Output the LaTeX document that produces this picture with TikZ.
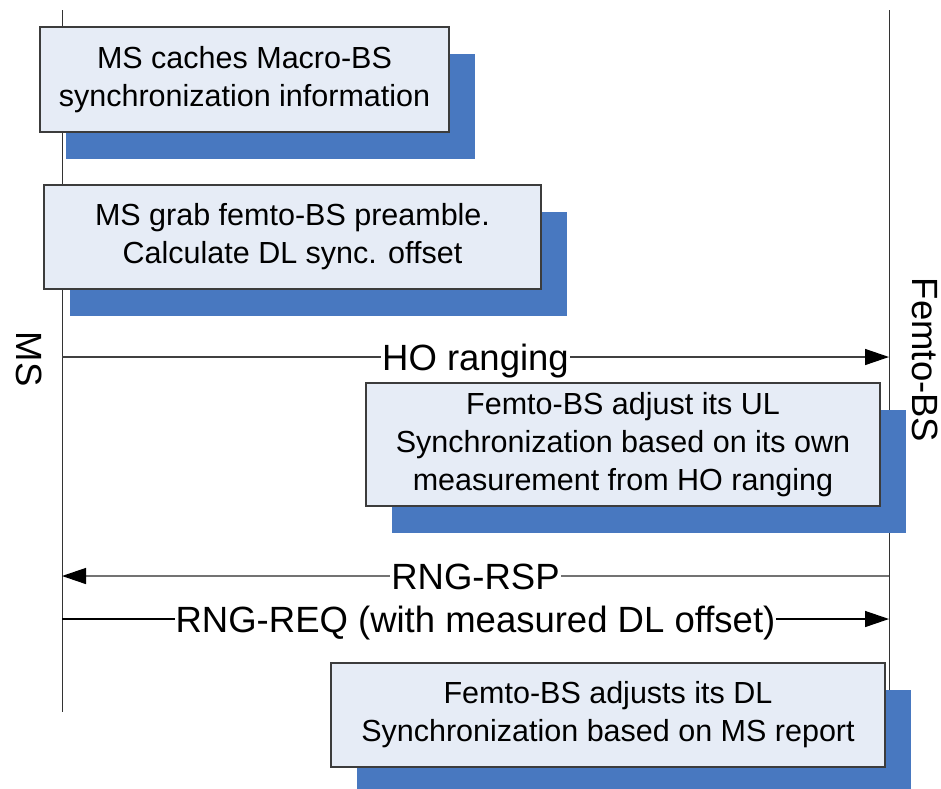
\documentclass[tikz,border=0pt]{standalone}
\usepackage{fontspec}
\setmainfont{Liberation Sans}
\usetikzlibrary{arrows.meta,shadows}
\definecolor{boxfill}{RGB}{230,236,246}
\definecolor{boxline}{RGB}{60,60,60}
\definecolor{shadowblue}{RGB}{72,120,192}
\definecolor{rspgray}{RGB}{115,115,115}
\begin{document}
\begin{tikzpicture}[x=1pt,y=-1pt,
  life/.style={line width=1pt,black!80},
  msg/.style={line width=1.4pt,-{Triangle[length=24pt,width=16pt,color=black]}},
  msglabel/.style={fill=white,inner xsep=1pt,inner ysep=0pt,font=\fontsize{36.5}{40}\selectfont,anchor=base,yshift=-13pt},
  sidelabel/.style={rotate=-90,inner sep=0pt,font=\fontsize{36.5}{40}\selectfont},
  notebox/.style={draw=boxline,line width=1.4pt,fill=boxfill,align=center,inner sep=0pt,
    font=\fontsize{30.5}{38}\selectfont,
    drop shadow={shadow xshift=26pt,shadow yshift=-26.5pt,fill=shadowblue,opacity=1}}]
\useasboundingbox (0,0) rectangle (941,788);

\coordinate (ms-top) at (62,10);
\coordinate (ms-bot) at (62,712);
\coordinate (bs-top) at (889,10);
\coordinate (bs-bot) at (889,712);
\draw[life] (ms-top) -- (ms-bot);
\draw[life] (bs-top) -- (bs-bot);

\node[sidelabel] (ms) at (29,359) {MS};
\node[sidelabel] (bs) at (925,360) {Femto-BS};

\node[notebox,minimum width=409pt,minimum height=105pt] (cache) at (244.5,79.5)
  {MS caches Macro-BS\\synchronization information};
\node[notebox,minimum width=497pt,minimum height=104pt] (grab) at (292.5,237)
  {MS grab femto-BS preamble.\\Calculate DL sync. offset};

\coordinate (ms-ho) at (62,357);
\coordinate (bs-ho) at (889,357);
\draw[msg,black!75] (ms-ho) -- node[msglabel,text=black] (ho) {HO ranging} (bs-ho);

\node[notebox,minimum width=514pt,minimum height=123pt] (ulsync) at (623,444.5)
  {Femto-BS adjust its UL\\Synchronization based on its own\\measurement from HO ranging};

\coordinate (bs-rsp) at (889,576);
\coordinate (ms-rsp) at (62,576);
\draw[msg,rspgray] (bs-rsp) -- node[msglabel,text=black] (rsp) {RNG-RSP} (ms-rsp);

\coordinate (ms-req) at (62,619);
\coordinate (bs-req) at (889,619);
\draw[msg,black] (ms-req) -- node[msglabel] (req) {RNG-REQ (with measured DL offset)} (bs-req);

\node[notebox,minimum width=554pt,minimum height=104pt] (dlsync) at (608,715)
  {Femto-BS adjusts its DL\\Synchronization based on MS report};
\end{tikzpicture}
\end{document}
